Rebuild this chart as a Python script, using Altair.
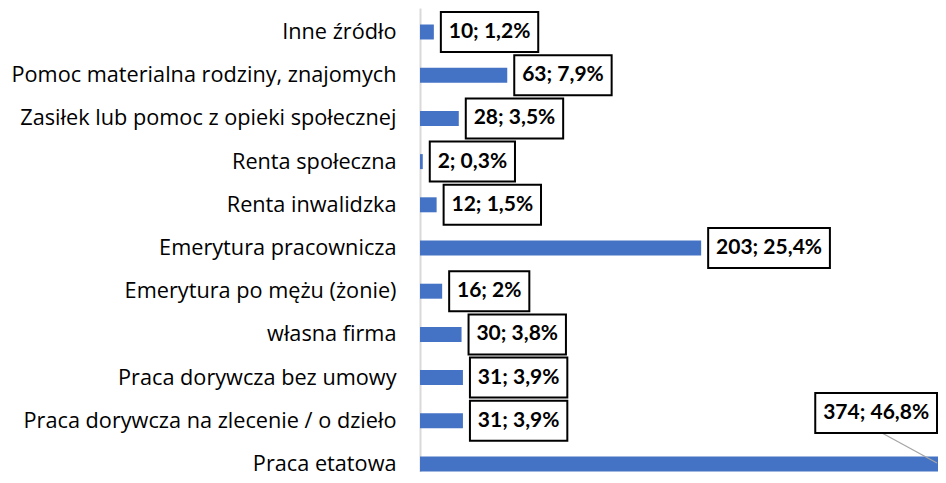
import altair as alt
import pandas as pd

categories = [
    "Inne źródło",
    "Pomoc materialna rodziny, znajomych",
    "Zasiłek lub pomoc z opieki społecznej",
    "Renta społeczna",
    "Renta inwalidzka",
    "Emerytura pracownicza",
    "Emerytura po mężu (żonie)",
    "własna firma",
    "Praca dorywcza bez umowy",
    "Praca dorywcza na zlecenie / o dzieło",
    "Praca etatowa",
]
counts = [10, 63, 28, 2, 12, 203, 16, 30, 31, 31, 374]
percents = [1.2, 7.9, 3.5, 0.3, 1.5, 25.4, 2, 3.8, 3.9, 3.9, 46.8]


def fmt_pct(p):
    return f"{p:g}".replace(".", ",")


labels = [f"{c}; {fmt_pct(p)}%" for c, p in zip(counts, percents)]

# layout constants
W, H = 518, 463.5
XMAX = 374
K = W / XMAX  # px per unit
LABEL_SIZE = 21
# approximate Lato Bold advance widths (em)
CHAR_W = {";": 0.28, " ": 0.193, ",": 0.24, "%": 0.795}


def text_width(s):
    return sum(CHAR_W.get(ch, 0.58) for ch in s) * LABEL_SIZE


df = pd.DataFrame({"cat": categories, "value": counts, "label": labels})
df["tw"] = [text_width(s) for s in labels]

base = alt.Chart(df).transform_joinaggregate(
    vmax="max(value)"
).transform_calculate(
    ismax="datum.value == datum.vmax",
    bwd=f"(datum.tw + 17) / {K}",
).transform_calculate(
    x1=f"datum.ismax ? datum.value - 1/{K} - datum.bwd : datum.value + 7/{K}",
).transform_calculate(
    x2="datum.x1 + datum.bwd",
    xc="datum.x1 + datum.bwd / 2",
    lx=f"datum.value - 56/{K}",
    lx2=f"datum.value - 1/{K}",
)

xscale = alt.Scale(domain=[0, XMAX], nice=False, zero=True)
yscale = alt.Scale(paddingInner=0.653, paddingOuter=0.191, align=1)
yaxis = alt.Axis(
    title=None,
    ticks=False,
    grid=False,
    domainColor="#d9d9d9",
    domainWidth=2,
    labelFont="Open Sans",
    labelFontSize=21.7,
    labelColor="#000000",
    labelPadding=24,
    labelLimit=0,
)

Y = alt.Y("cat:N", sort=categories, scale=yscale, axis=yaxis)
Yp = alt.Y("cat:N", sort=categories)

bars = base.mark_bar(color="#4472C4").encode(
    x=alt.X("value:Q", scale=xscale, axis=None),
    y=Y,
)

normal = base.transform_filter("!datum.ismax")
top = base.transform_filter("datum.ismax")

box_n = normal.mark_rect(fill="white", stroke="black", strokeWidth=2, height=40).encode(
    x="x1:Q", x2="x2:Q", y=Yp
)
txt_n = normal.mark_text(
    font="Lato", fontWeight="bold", fontSize=LABEL_SIZE, color="black",
    align="center", baseline="middle",
).encode(x="xc:Q", y=Yp, text="label:N")

leader = top.mark_rule(color="#a6a6a6", strokeWidth=1.3, yOffset=-31, y2Offset=-1).encode(
    x="lx:Q", x2="lx2:Q", y=Yp, y2="cat:N"
)
box_t = top.mark_rect(fill="white", stroke="black", strokeWidth=2, height=40, yOffset=-51).encode(
    x="x1:Q", x2="x2:Q", y=Yp
)
txt_t = top.mark_text(
    font="Lato", fontWeight="bold", fontSize=LABEL_SIZE, color="black",
    align="center", baseline="middle", dy=-51,
).encode(x="xc:Q", y=Yp, text="label:N")

chart = alt.layer(bars, box_n, txt_n, leader, box_t, txt_t).properties(
    width=W,
    height=H,
    autosize=alt.AutoSizeParams(type="none"),
    padding={"left": 412, "top": 0, "right": 0, "bottom": 8},
).configure_view(stroke=None)

chart.save("out.html", embed_options={"renderer": "svg", "actions": False})
